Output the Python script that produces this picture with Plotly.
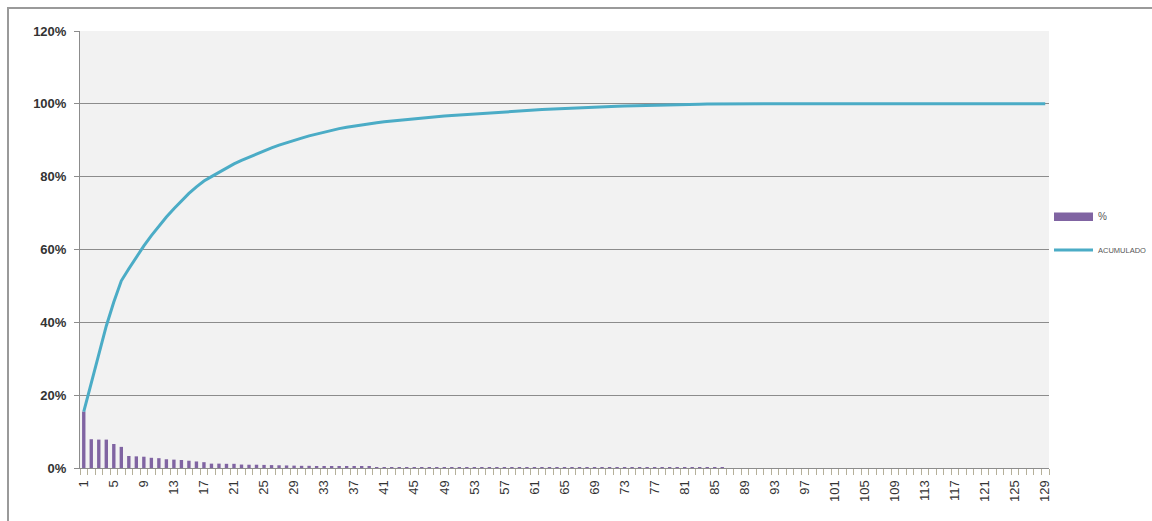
import numpy as np
import plotly.graph_objects as go

# Category numbers 1..129 and the share (%) of each category
categorias = list(range(1, 130))

porcentaje = [
    15.5, 7.9, 7.8, 7.8, 6.6, 5.8, 3.3, 3.2, 3.1, 2.8,
    2.7, 2.4, 2.3, 2.2, 2.0, 1.8, 1.6, 1.2, 1.2, 1.15,
    1.15, 0.95, 0.9, 0.9, 0.85, 0.8, 0.75, 0.7, 0.65, 0.6,
    0.6, 0.55, 0.55, 0.5, 0.4, 0.38, 0.35, 0.33, 0.3, 0.26,
    0.24, 0.22, 0.22, 0.22, 0.21, 0.2, 0.19, 0.18, 0.17, 0.16,
    0.15, 0.15, 0.14, 0.13, 0.13, 0.12, 0.12, 0.14, 0.13, 0.13,
    0.12, 0.12, 0.11, 0.11, 0.1, 0.1, 0.1, 0.09, 0.09, 0.08,
    0.08, 0.07, 0.07, 0.07, 0.06, 0.06, 0.05, 0.05, 0.05, 0.04,
    0.04, 0.04, 0.04, 0.03, 0.03, 0.03, 0.0, 0.0, 0.0, 0.0,
    0.0, 0.0, 0.0, 0.0, 0.0, 0.0, 0.0, 0.0, 0.0, 0.0,
    0.0, 0.0, 0.0, 0.0, 0.0, 0.0, 0.0, 0.0, 0.0, 0.0,
    0.0, 0.0, 0.0, 0.0, 0.0, 0.0, 0.0, 0.0, 0.0, 0.0,
    0.0, 0.0, 0.0, 0.0, 0.0, 0.0, 0.0, 0.0, 0.0,
]

# Running total of the shares (Pareto curve)
acumulado = np.minimum(np.round(np.cumsum(porcentaje), 2), 100.0)

etiquetas_x = list(range(1, 130, 4))
valores_y = [0, 20, 40, 60, 80, 100, 120]

COLOR_BARRA = "#8064A2"
COLOR_LINEA = "#4BACC6"
GRIS = "#8c8c8c"

fig = go.Figure()
fig.add_trace(go.Bar(
    x=categorias, y=porcentaje, name="%",
    marker=dict(color=COLOR_BARRA, line=dict(width=0)),
    showlegend=False,
))
fig.add_trace(go.Scatter(
    x=categorias, y=acumulado, name="ACUMULADO", mode="lines",
    line=dict(color=COLOR_LINEA, width=3),
    showlegend=False,
))

W, H = 1152, 521
L, R, T, B = 80, 103, 31, 53
pw, ph = W - L - R, H - T - B


def px(xp):
    return (xp - L) / pw


def py(yp):
    return (H - B - yp) / ph


shapes = [
    # outer chart frame
    dict(type="rect", xref="paper", yref="paper",
         x0=px(8), x1=px(1170), y0=py(8), y1=py(540),
         line=dict(color="#9a9a9a", width=2), fillcolor="rgba(0,0,0,0)",
         layer="below"),
    # legend swatch for the bars
    dict(type="rect", xref="paper", yref="paper",
         x0=px(1054), x1=px(1093), y0=py(221), y1=py(212.5),
         line=dict(width=0), fillcolor=COLOR_BARRA),
    # legend swatch for the line
    dict(type="line", xref="paper", yref="paper",
         x0=px(1054), x1=px(1093), y0=py(250), y1=py(250),
         line=dict(color=COLOR_LINEA, width=3)),
]

annotations = [
    dict(text="%", xref="paper", yref="paper", x=px(1096), y=py(216.5),
         xanchor="left", yanchor="middle", showarrow=False,
         font=dict(family="Liberation Sans, Arial", size=10, color="#555")),
    dict(text="ACUMULADO", xref="paper", yref="paper", x=px(1096), y=py(250),
         xanchor="left", yanchor="middle", showarrow=False,
         font=dict(family="Liberation Sans, Arial", size=7.5, color="#555")),
]

fig.update_layout(
    width=W, height=H,
    margin=dict(l=L, r=R, t=T, b=B, pad=0),
    paper_bgcolor="white",
    plot_bgcolor="#f2f2f2",
    bargap=0.55,
    shapes=shapes,
    annotations=annotations,
    font=dict(family="Liberation Sans, Arial", color="#333"),
)

fig.update_xaxes(
    range=[0.5, 129.5],
    tickmode="array", tickvals=etiquetas_x,
    ticktext=[str(v) for v in etiquetas_x],
    tickangle=-90,
    ticks="",
    ticklabelstandoff=6,
    tickfont=dict(size=13, color="#333"),
    minor=dict(tick0=0.5, dtick=1, ticks="outside", ticklen=6,
               tickcolor="#b5b09a", tickwidth=1, showgrid=False),
    showline=True, linecolor=GRIS, linewidth=1,
    showgrid=False, zeroline=False,
)

fig.update_yaxes(
    range=[0, 120],
    tickmode="array", tickvals=valores_y,
    ticktext=[f"<b>{v}%</b>" for v in valores_y],
    ticks="outside", ticklen=5, tickcolor=GRIS,
    ticklabelstandoff=5,
    tickfont=dict(size=13, color="#333"),
    showline=True, linecolor=GRIS, linewidth=1,
    showgrid=True, gridcolor=GRIS, gridwidth=1,
    zeroline=False,
)

fig.write_html("out.html")
